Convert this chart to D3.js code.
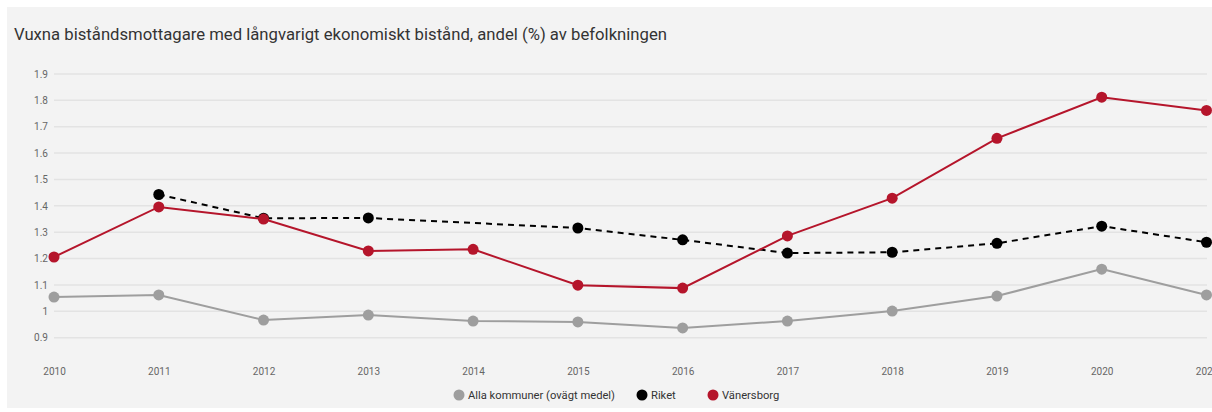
<!DOCTYPE html>
<html>
<head>
<meta charset="utf-8">
<script src="https://cdn.jsdelivr.net/npm/d3@7"></script>
<style>
    body { margin: 0; background: #fff; font-family: Roboto, "Noto Sans", sans-serif; }
    #chart { width: 1212px; height: 412px; }
</style>
</head>
<body>
<div id="chart"></div>
<script>

// data
let years = [2010, 2011, 2012, 2013, 2014, 2015, 2016, 2017, 2018, 2019, 2020, 2021];
let allaKommuner = [1.054, 1.062, 0.967, 0.986, 0.963, 0.960, 0.937, 0.963, 1.001, 1.058, 1.160, 1.062];
let riket = [null, 1.443, 1.353, 1.354, null, 1.316, 1.271, 1.221, 1.224, 1.258, 1.323, 1.262];
let vanersborg = [1.206, 1.396, 1.350, 1.229, 1.235, 1.099, 1.088, 1.286, 1.429, 1.656, 1.812, 1.762];
let yTicks = [0.9, 1, 1.1, 1.2, 1.3, 1.4, 1.5, 1.6, 1.7, 1.8, 1.9];

let seriesList = [
    {name: "Alla kommuner (ovägt medel)", values: allaKommuner, color: "#9e9e9e", dash: null},
    {name: "Riket", values: riket, color: "#000000", dash: "6,5"},
    {name: "Vänersborg", values: vanersborg, color: "#b5152b", dash: null}
];

let width = 1212, height = 412;

let svg = d3.select("#chart").append("svg")
    .attr("width", width)
    .attr("height", height);

// panel background
svg.append("rect")
    .attr("x", 7)
    .attr("y", 7)
    .attr("width", width - 7)
    .attr("height", height - 11)
    .attr("fill", "#f3f3f3");

// title
svg.append("text")
    .attr("x", 14)
    .attr("y", 40)
    .attr("font-size", 16.7)
    .attr("fill", "#333")
    .text("Vuxna biståndsmottagare med långvarigt ekonomiskt bistånd, andel (%) av befolkningen");

let x = d3.scalePoint()
    .domain(years)
    .range([54, 1206.5]);

let y = d3.scaleLinear()
    .domain([0.9, 1.9])
    .range([337.7, 74]);

// grid
svg.append("g")
    .selectAll("line")
    .data(yTicks)
    .enter().append("line")
    .attr("x1", 54)
    .attr("x2", 1207)
    .attr("y1", d => y(d))
    .attr("y2", d => y(d))
    .attr("stroke", "#e3e3e3")
    .attr("stroke-width", 1.5);

// y axis labels
let yAxis = d3.axisLeft(y)
    .tickValues(yTicks)
    .tickSize(0)
    .tickPadding(0)
    .tickFormat(d => d3.format("")(d));

svg.append("g")
    .attr("transform", "translate(48,0)")
    .call(yAxis)
    .call(g => g.select(".domain").remove())
    .call(g => g.selectAll("text")
        .attr("fill", "#666")
        .attr("font-size", 10)
        .attr("font-family", "Roboto, sans-serif"));

// x axis labels (last one runs off the edge, as in the original)
let xAxis = d3.axisBottom(x)
    .tickSize(0)
    .tickPadding(0);

svg.append("g")
    .attr("transform", "translate(0,368)")
    .call(xAxis)
    .call(g => g.select(".domain").remove())
    .call(g => g.selectAll("text")
        .attr("fill", "#666")
        .attr("font-size", 10)
        .attr("font-family", "Roboto, sans-serif"));

let line = d3.line()
    .x(d => x(d.year))
    .y(d => y(d.value));

// lines and dots
seriesList.forEach(s => {
    let pts = years.map((yr, i) => ({year: yr, value: s.values[i]}))
        .filter(d => d.value !== null);

    svg.append("path")
        .datum(pts)
        .attr("d", line)
        .attr("fill", "none")
        .attr("stroke", s.color)
        .attr("stroke-width", 2)
        .attr("stroke-dasharray", s.dash);

    svg.append("g")
        .selectAll("circle")
        .data(pts)
        .enter().append("circle")
        .attr("cx", d => x(d.year))
        .attr("cy", d => y(d.value))
        .attr("r", 5.5)
        .attr("fill", s.color);
});

// legend
let legend = svg.append("g")
    .attr("transform", "translate(0,395)");

let legendX = [459, 642, 713];

seriesList.forEach((s, i) => {
    let item = legend.append("g")
        .attr("transform", `translate(${legendX[i]},0)`);
    item.append("circle")
        .attr("r", 5.5)
        .attr("fill", s.color);
    item.append("text")
        .attr("x", 9)
        .attr("dy", "0.35em")
        .attr("font-size", 11.2)
        .attr("fill", "#333")
        .text(s.name);
});

</script>
</body>
</html>
